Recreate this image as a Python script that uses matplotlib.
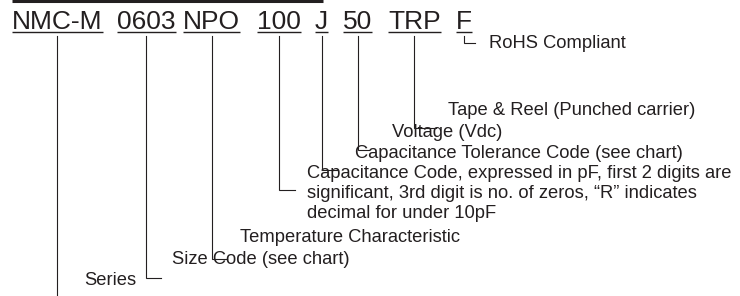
import matplotlib
matplotlib.use("Agg")
import matplotlib.pyplot as plt

plt.rcParams['font.family'] = ['Liberation Sans', 'DejaVu Sans']

# part number fields, left to right
codes = ["NMC-M", "0603", "NPO", "100", "J", "50", "TRP", "F"]

# descriptions (as laid out in the reference, one text line each)
labels = [
    "RoHS Compliant",
    "Tape & Reel (Punched carrier)",
    "Voltage (Vdc)",
    "Capacitance Tolerance Code (see chart)",
    "Capacitance Code, expressed in pF, first 2 digits are",
    "significant, 3rd digit is no. of zeros, \u201cR\u201d indicates",
    "decimal for under 10pF",
    "Temperature Characteristic",
    "Size Code (see chart)",
    "Series",
]

# layout (pixels, y measured from the top)
code_x = [12, 117, 183, 257, 315, 343, 388, 456]
code_base = 29
underline_y = 32
label_x = [489, 448, 392, 355, 307, 307, 307, 240, 172, 84]
label_base = [48, 115, 137, 158, 178, 198, 218, 242, 264, 285]
hook_y = [296, 278, 259, 190, 170, 150, 128, 43]
hook_len = [0, 15, 15, 16, 16, 11, 22, 11]

ink = '#231f20'
W, H = 740, 296

fig = plt.figure(figsize=(W / 100, H / 100), dpi=100)
ax = fig.add_axes([0, 0, 1, 1])
ax.set_xlim(0, W)
ax.set_ylim(H, 0)
ax.axis('off')

# heavy rule above the part number
ax.plot([12, 323], [1.2, 1.2], color=ink, lw=2.2, solid_capstyle='butt')

texts = []
for c, x in zip(codes, code_x):
    t = ax.text(x, code_base, c, fontsize=19, color=ink, ha='left', va='baseline')
    texts.append(t)

for s, x, y in zip(labels, label_x, label_base):
    ax.text(x, y, s, fontsize=13.2, color=ink, ha='left', va='baseline')

fig.canvas.draw()
inv = ax.transData.inverted()
for t, hy, hl in zip(texts, hook_y, hook_len):
    bb = t.get_window_extent()
    (x0, _), (x1, _) = inv.transform([(bb.x0, bb.y0), (bb.x1, bb.y1)])
    ax.plot([x0, x1], [underline_y, underline_y], color=ink, lw=1.0, solid_capstyle='butt')
    xm = (x0 + x1) / 2
    ax.plot([xm, xm, xm + hl], [underline_y + 4, hy, hy], color=ink, lw=0.8,
            solid_joinstyle='miter')

fig.savefig('out.png', dpi=100)
